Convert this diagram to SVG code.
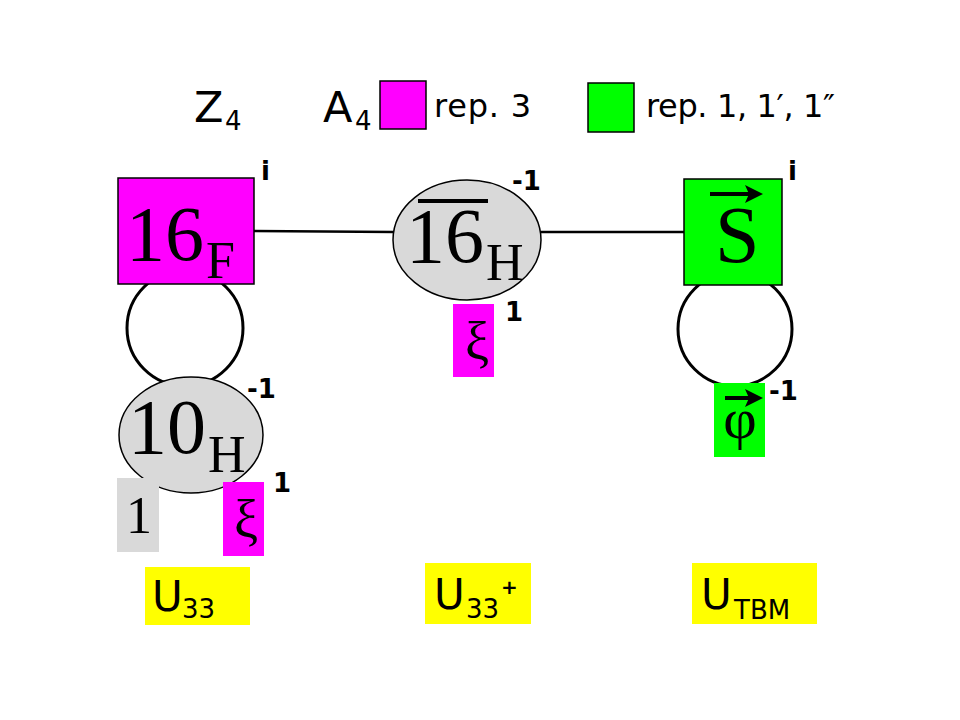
<svg xmlns="http://www.w3.org/2000/svg" width="960" height="720" viewBox="0 0 960 720">
<style>
.sans{font-family:"DejaVu Sans","Liberation Sans",sans-serif;fill:#000}
.sup{font-family:"DejaVu Sans","Liberation Sans",sans-serif;font-weight:bold;font-size:26px;fill:#000}
.serif{font-family:"Liberation Serif","DejaVu Serif",serif;fill:#000}
.big{font-size:78px}
.sub{font-size:52px}
.mag{fill:#ff00ff}
.grn{fill:#00ff00}
.gry{fill:#d9d9d9}
.yel{fill:#ffff00}
.edge{stroke:#000;stroke-width:1.5}
.conn{stroke:#000;stroke-width:2.5;fill:none}
.loop{stroke:#000;stroke-width:3;fill:none}
</style>
<rect width="960" height="720" fill="#fff"/>
<g id="legend">
<text class="sans" x="194" y="122" font-size="43">Z</text>
<text class="sans" x="225" y="130" font-size="26">4</text>
<text class="sans" x="323" y="122" font-size="43">A</text>
<text class="sans" x="355" y="130" font-size="26">4</text>
<rect class="mag edge" x="380" y="81" width="46" height="48"/>
<text class="sans" x="434" y="117" font-size="32" textLength="97">rep. 3</text>
<rect class="grn edge" x="588" y="83" width="46" height="49"/>
<text class="sans" x="646" y="117" font-size="32" textLength="189">rep. 1, 1′, 1″</text>
</g>
<g id="connectors">
<line class="conn" x1="254" y1="231" x2="394" y2="232"/>
<line class="conn" x1="541" y1="232" x2="684" y2="232"/>
<circle class="loop" cx="185" cy="328" r="58"/>
<circle class="loop" cx="735" cy="329" r="57"/>
</g>
<g id="node-16F">
<rect class="mag edge" x="118" y="178" width="136" height="106"/>
<text class="serif big" x="126" y="260">16</text>
<text class="serif sub" x="206" y="278">F</text>
<text class="sup" x="261" y="180">i</text>
</g>
<g id="node-16H">
<ellipse class="gry edge" cx="467" cy="240" rx="74" ry="60"/>
<text class="serif big" x="406" y="262">16</text>
<rect x="418" y="199" width="70" height="4" fill="#000"/>
<text class="serif sub" x="486" y="280">H</text>
<text class="sup" x="512" y="190">-1</text>
</g>
<g id="node-xi-top">
<rect class="mag" x="453" y="304" width="41" height="73"/>
<text class="serif" x="477" y="360" font-size="54" text-anchor="middle">ξ</text>
<text class="sup" x="505" y="321">1</text>
</g>
<g id="node-S">
<rect class="grn edge" x="684" y="179" width="98" height="106"/>
<text class="serif" x="715" y="262" font-size="80">S</text>
<line x1="710" y1="194" x2="752" y2="194" stroke="#000" stroke-width="4"/>
<path d="M745 185 L763 194 L745 203 L749 194 Z" fill="#000"/>
<text class="sup" x="788" y="180">i</text>
</g>
<g id="node-phi">
<rect class="grn" x="714" y="383" width="51" height="74"/>
<text class="serif" x="740" y="438" font-size="58" text-anchor="middle">φ</text>
<line x1="725" y1="398" x2="752" y2="398" stroke="#000" stroke-width="4"/>
<path d="M745 389 L763 398 L745 407 L749 398 Z" fill="#000"/>
<text class="sup" x="769" y="400">-1</text>
</g>
<g id="node-10H">
<ellipse class="gry edge" cx="191" cy="435" rx="72" ry="58"/>
<text class="serif big" x="128" y="453">10</text>
<text class="serif sub" x="208" y="472">H</text>
<text class="sup" x="247" y="398">-1</text>
</g>
<g id="node-one">
<rect class="gry" x="117" y="478" width="42" height="74"/>
<text class="serif" x="139" y="533" font-size="52" text-anchor="middle">1</text>
</g>
<g id="node-xi-bottom">
<rect class="mag" x="223" y="482" width="41" height="74"/>
<text class="serif" x="246" y="538" font-size="54" text-anchor="middle">ξ</text>
<text class="sup" x="273" y="492">1</text>
</g>
<g id="node-U33">
<rect class="yel" x="145" y="567" width="105" height="58"/>
<text class="sans" x="152" y="611" font-size="42">U</text>
<text class="sans" x="182" y="618" font-size="26">33</text>
</g>
<g id="node-U33plus">
<rect class="yel" x="425" y="563" width="106" height="61"/>
<text class="sans" x="434" y="609" font-size="42">U</text>
<text class="sans" x="466" y="618" font-size="26">33</text>
<text class="sans" x="501" y="594" font-size="20" font-weight="bold">+</text>
</g>
<g id="node-UTBM">
<rect class="yel" x="692" y="563" width="125" height="61"/>
<text class="sans" x="701" y="609" font-size="42">U</text>
<text class="sans" x="734" y="619" font-size="26">TBM</text>
</g>
</svg>
